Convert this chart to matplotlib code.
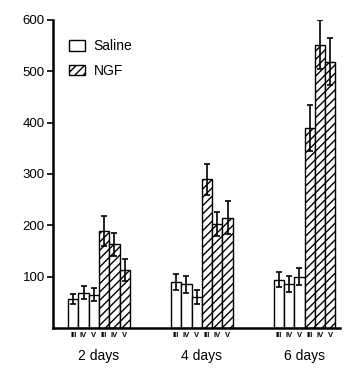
import numpy as np
import matplotlib
matplotlib.use('Agg')
import matplotlib.pyplot as plt
from matplotlib.patches import Patch

plt.rcParams['font.family'] = ['Liberation Sans', 'DejaVu Sans']
plt.rcParams['hatch.linewidth'] = 1.0

groups = ['2 days', '4 days', '6 days']
subgroups = ['III', 'IV', 'V']

# mean and error per group (III, IV, V)
saline = [[56, 69, 65], [90, 85, 61], [94, 86, 100]]
saline_err = [[10, 13, 13], [16, 16, 14], [15, 15, 16]]
ngf = [[189, 163, 113], [290, 202, 215], [390, 552, 519]]
ngf_err = [[30, 23, 21], [30, 23, 32], [45, 47, 46]]

fig = plt.figure(figsize=(3.61, 3.70), dpi=100)
ax = fig.add_axes([0.147, 0.1135, 0.795, 0.8325])

w = 0.1
offsets = (np.arange(6) - 2.5) * w
minor_pos, minor_lab = [], []
err_kw = dict(ecolor='black', elinewidth=1.2, capsize=2.5, capthick=1.2)

for g in range(len(groups)):
    xs = g + offsets
    ax.bar(xs[:3], saline[g], w, color='white', edgecolor='black', linewidth=1.0,
           yerr=saline_err[g], error_kw=err_kw, zorder=2)
    ax.bar(xs[3:], ngf[g], w, color='white', edgecolor='black', linewidth=1.0,
           hatch='////', yerr=ngf_err[g], error_kw=err_kw, zorder=2)
    minor_pos += list(xs)
    minor_lab += subgroups * 2

ax.set_xlim(-0.447, 2.345)
ax.set_ylim(0, 600)
ax.set_yticks([100, 200, 300, 400, 500, 600])
ax.tick_params(axis='y', direction='out', length=4, width=1.2, labelsize=9.5, pad=2)

ax.set_xticks(range(3))
ax.set_xticklabels(groups, fontsize=10)
ax.set_xticks(minor_pos, minor=True)
ax.set_xticklabels(minor_lab, minor=True, fontsize=5.5, fontweight='bold')
ax.tick_params(axis='x', which='major', length=0, pad=15)
ax.tick_params(axis='x', which='minor', length=0, pad=3)

for s in ['top', 'right']:
    ax.spines[s].set_visible(False)
ax.spines['left'].set_linewidth(1.8)
ax.spines['bottom'].set_linewidth(1.8)

handles = [Patch(facecolor='white', edgecolor='black', label='Saline'),
           Patch(facecolor='white', edgecolor='black', hatch='////', label='NGF')]
ax.legend(handles=handles, loc='upper left', bbox_to_anchor=(0.035, 0.955), frameon=False,
          fontsize=10, handlelength=1.2, handleheight=0.8, labelspacing=0.75,
          handletextpad=0.6, borderaxespad=0)

fig.savefig('out.png', dpi=100)
